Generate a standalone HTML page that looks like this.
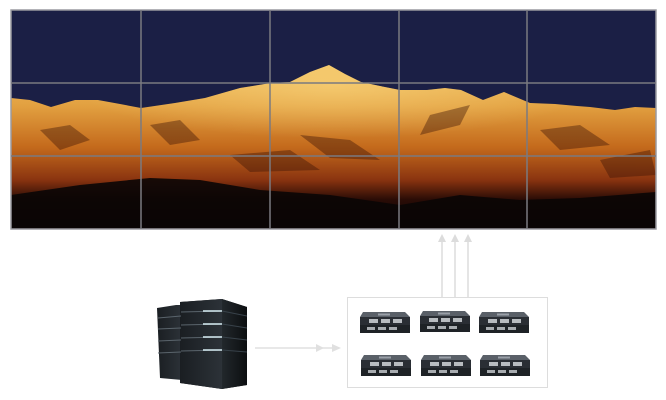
<!DOCTYPE html>
<html><head><meta charset="utf-8"><style>
html,body{margin:0;padding:0;background:#fff;}
svg{display:block}
</style></head><body>
<svg width="666" height="400" viewBox="0 0 666 400" xmlns="http://www.w3.org/2000/svg">
<defs>
<linearGradient id="mtn" x1="0" y1="0" x2="0" y2="1">
<stop offset="0" stop-color="#f0c060"/>
<stop offset="0.25" stop-color="#e2a040"/>
<stop offset="0.5" stop-color="#c46a1c"/>
<stop offset="0.7" stop-color="#8a3410"/>
<stop offset="0.82" stop-color="#2a0c06"/>
<stop offset="1" stop-color="#080404"/>
</linearGradient>
<radialGradient id="glow" cx="0.5" cy="0.2" r="0.4">
<stop offset="0" stop-color="#ffe08a" stop-opacity="0.5"/>
<stop offset="1" stop-color="#ffe08a" stop-opacity="0"/>
</radialGradient>
<clipPath id="mc">
<path d="M11,98 L30,100 L51,107 L75,100 L98,100 L120,104 L141,108 L175,103 L205,98 L240,88 L271,83 L290,82 L310,72 L329,65 L345,74 L361,82 L380,86 L400,90 L427,90 L445,88 L461,90 L483,100 L504,92 L530,103 L555,104 L577,106 L590,107 L615,110 L635,107 L656,108 L656,229 L11,229 Z"/>
</clipPath>
<linearGradient id="srvF" x1="0" y1="0" x2="1" y2="0">
<stop offset="0" stop-color="#1a1e22"/><stop offset="1" stop-color="#2c3238"/>
</linearGradient>
<linearGradient id="srvS" x1="0" y1="0" x2="1" y2="0">
<stop offset="0" stop-color="#22282c"/><stop offset="1" stop-color="#0c0e10"/>
</linearGradient>
<g id="dev">
<polygon points="3,0 45,0 50,5 0,5" fill="#5a6068"/>
<rect x="0" y="5" width="50" height="8" fill="#2a2e34"/>
<rect x="0" y="13" width="50" height="8" fill="#1e2226"/>
<rect x="9" y="7" width="9" height="4" fill="#b8bcc0"/>
<rect x="21" y="7" width="9" height="4" fill="#b8bcc0"/>
<rect x="33" y="7" width="9" height="4" fill="#b8bcc0"/>
<rect x="7" y="15" width="8" height="3" fill="#a8acb0"/>
<rect x="18" y="15" width="8" height="3" fill="#a8acb0"/>
<rect x="29" y="15" width="8" height="3" fill="#a8acb0"/>
<rect x="18" y="1.5" width="12" height="2" fill="#9aa0a8"/>
</g>
</defs>
<rect x="11" y="10" width="645" height="219" fill="#1b1f45"/>
<path d="M11,98 L30,100 L51,107 L75,100 L98,100 L120,104 L141,108 L175,103 L205,98 L240,88 L271,83 L290,82 L310,72 L329,65 L345,74 L361,82 L380,86 L400,90 L427,90 L445,88 L461,90 L483,100 L504,92 L530,103 L555,104 L577,106 L590,107 L615,110 L635,107 L656,108 L656,229 L11,229 Z" fill="url(#mtn)"/>
<g clip-path="url(#mc)">
<rect x="11" y="60" width="645" height="130" fill="url(#glow)"/>
<g fill="#3a1206" opacity="0.4">
<polygon points="40,130 70,125 90,140 60,150"/>
<polygon points="150,125 180,120 200,140 170,145"/>
<polygon points="300,135 350,140 380,160 330,158"/>
<polygon points="430,115 470,105 460,125 420,135"/>
<polygon points="540,130 580,125 610,145 560,150"/>
<polygon points="230,155 290,150 320,170 250,172"/>
<polygon points="600,160 650,150 656,175 610,178"/>
</g>
</g>
<path d="M11,195 L80,185 L150,178 L200,180 L260,190 L330,195 L400,205 L460,195 L520,200 L580,198 L656,192 L656,229 L11,229 Z" fill="#0a0505" opacity="0.9"/>
<g stroke="#7a7a80" stroke-width="1.5" fill="none">
<rect x="11" y="10" width="645" height="219" stroke="#9a9aa0"/>
<line x1="141" y1="10" x2="141" y2="229"/>
<line x1="270" y1="10" x2="270" y2="229"/>
<line x1="399" y1="10" x2="399" y2="229"/>
<line x1="527" y1="10" x2="527" y2="229"/>
<line x1="11" y1="83" x2="656" y2="83"/>
<line x1="11" y1="156" x2="656" y2="156"/>
</g>
<g stroke="#dcdcdc" stroke-width="1.5">
<line x1="442" y1="297" x2="442" y2="240"/>
<line x1="455" y1="297" x2="455" y2="240"/>
<line x1="468" y1="297" x2="468" y2="240"/>
</g>
<g fill="#dcdcdc">
<polygon points="438,242 442,234 446,242"/>
<polygon points="451,242 455,234 459,242"/>
<polygon points="464,242 468,234 472,242"/>
</g>
<line x1="255" y1="348" x2="336" y2="348" stroke="#e0e0e0" stroke-width="1.5"/>
<polygon points="316,344 324,348 316,352" fill="#e0e0e0"/>
<polygon points="332,344 341,348 332,352" fill="#e0e0e0"/>
<rect x="347.5" y="297.5" width="200" height="90" fill="none" stroke="#dddddd" stroke-width="1"/>
<use href="#dev" x="360" y="312"/>
<use href="#dev" x="420" y="311"/>
<use href="#dev" x="479" y="312"/>
<use href="#dev" x="361" y="355"/>
<use href="#dev" x="421" y="355"/>
<use href="#dev" x="480" y="355"/>
<polygon points="157,308 176,305 182,305 182,380 160,378" fill="url(#srvF)"/>
<polygon points="180,302 222,299 247,307 247,385 222,389 180,383" fill="#0e1114"/>
<polygon points="180,302 222,299 222,389 180,383" fill="url(#srvF)"/>
<polygon points="222,299 247,307 247,385 222,389" fill="url(#srvS)"/>
<g stroke="#5a646c" stroke-width="1">
<line x1="158" y1="318" x2="181" y2="316"/>
<line x1="158" y1="329" x2="181" y2="328"/>
<line x1="158" y1="341" x2="181" y2="340"/>
<line x1="158" y1="353" x2="181" y2="352"/>
<line x1="181" y1="312" x2="222" y2="311"/>
<line x1="181" y1="325" x2="222" y2="324"/>
<line x1="181" y1="338" x2="222" y2="337"/>
<line x1="181" y1="351" x2="222" y2="350"/>
</g>
<g stroke="#d8eef4" stroke-width="1.5">
<line x1="203" y1="311" x2="222" y2="311"/>
<line x1="203" y1="324" x2="222" y2="324"/>
<line x1="203" y1="337" x2="222" y2="337"/>
<line x1="203" y1="350" x2="222" y2="350"/>
</g>
<g stroke="#38424a" stroke-width="1">
<line x1="222" y1="311" x2="247" y2="316"/>
<line x1="222" y1="324" x2="247" y2="328"/>
<line x1="222" y1="337" x2="247" y2="340"/>
<line x1="222" y1="350" x2="247" y2="352"/>
</g>
</svg>
</body></html>
